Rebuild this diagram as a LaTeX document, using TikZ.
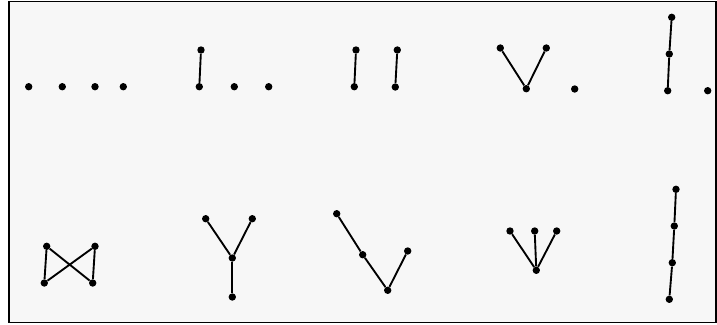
\documentclass[tikz,border=0pt]{standalone}
\begin{document}
\begin{tikzpicture}[x=0.03cm,y=-0.03cm,
  vx/.style={circle,fill=black,inner sep=0pt,minimum size=6.3pt},
  ed/.style={line width=1.6pt}]
\useasboundingbox (0,0) rectangle (717,324);
\draw[line width=1pt,fill=black!3] (9,1.5) rectangle (716,322.5);
% top row
\node[vx] (a1) at (28.7,86.7) {}; \node[vx] (a2) at (62.3,86.7) {};
\node[vx] (a3) at (95,86.7) {}; \node[vx] (a4) at (123.3,86.7) {};
\node[vx] (b1) at (201,50) {}; \node[vx] (b2) at (199.3,86.7) {};
\node[vx] (b3) at (234.3,86.7) {}; \node[vx] (b4) at (268.7,86.7) {};
\draw[ed] (b1)--(b2);
\node[vx] (c1) at (356,50) {}; \node[vx] (c2) at (354.3,86.7) {};
\node[vx] (c3) at (397.3,50) {}; \node[vx] (c4) at (395.3,87) {};
\draw[ed] (c1)--(c2); \draw[ed] (c3)--(c4);
\node[vx] (d1) at (500.3,48) {}; \node[vx] (d2) at (546.3,48) {};
\node[vx] (d3) at (526.3,88.7) {}; \node[vx] (d4) at (574.7,89) {};
\draw[ed] (d1)--(d3)--(d2);
\node[vx] (e1) at (671.7,17.3) {}; \node[vx] (e2) at (669.3,54) {};
\node[vx] (e3) at (667.7,90.7) {}; \node[vx] (e4) at (707.7,90.7) {};
\draw[ed] (e1)--(e2)--(e3);
% bottom row
\node[vx] (f1) at (46.7,246.3) {}; \node[vx] (f2) at (95,246.3) {};
\node[vx] (f3) at (44.3,283) {}; \node[vx] (f4) at (92.7,283) {};
\draw[ed] (f1)--(f3)--(f2)--(f4)--(f1);
\node[vx] (g1) at (205.7,218.7) {}; \node[vx] (g2) at (252.3,218.7) {};
\node[vx] (g3) at (232.3,258) {}; \node[vx] (g4) at (232.3,297) {};
\draw[ed] (g1)--(g3)--(g2); \draw[ed] (g3)--(g4);
\node[vx] (h1) at (336.7,213.7) {}; \node[vx] (h2) at (362.7,254.7) {};
\node[vx] (h3) at (387.7,290.3) {}; \node[vx] (h4) at (407.7,251) {};
\draw[ed] (h1)--(h2)--(h3)--(h4);
\node[vx] (k1) at (510,231) {}; \node[vx] (k2) at (534.7,231) {};
\node[vx] (k3) at (556.7,231) {}; \node[vx] (k4) at (536.3,270.3) {};
\draw[ed] (k1)--(k4)--(k3); \draw[ed] (k2)--(k4);
\node[vx] (m1) at (676,189.3) {}; \node[vx] (m2) at (674.3,226) {};
\node[vx] (m3) at (672.3,262.7) {}; \node[vx] (m4) at (669.3,299.3) {};
\draw[ed] (m1)--(m2)--(m3)--(m4);
\end{tikzpicture}
\end{document}
